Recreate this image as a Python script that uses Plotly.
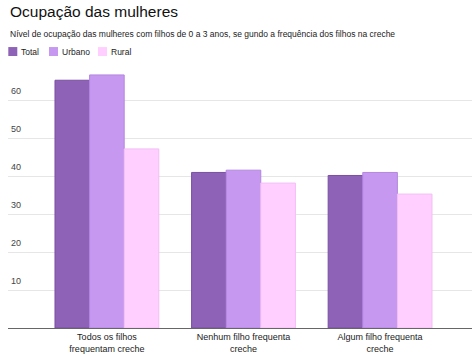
import plotly.graph_objects as go

categories = ["Todos os filhos<br>frequentam creche", "Nenhum filho frequenta<br>creche", "Algum filho frequenta<br>creche"]
series_names = ["Total", "Urbano", "Rural"]
total = [65.3, 41.0, 40.2]
urbano = [66.7, 41.6, 41.0]
rural = [47.2, 38.2, 35.3]
y_ticks = [10, 20, 30, 40, 50, 60]

fills = ["#8E62B7", "#C698F0", "#FFD0FF"]
lines = ["#7A4FA3", "#B486E0", "#F2BEF5"]

W, H = 472, 356
ML, MR, MT, MB = 8, 0, 70, 27.5
PW, PH = W - ML - MR, H - MT - MB

def px(x):
    return (x - ML) / PW

def py(y):
    return (H - MB - y) / PH

FONT = "Arial, Liberation Sans, sans-serif"

fig = go.Figure()
for name, vals, fc, lc in zip(series_names, [total, urbano, rural], fills, lines):
    fig.add_trace(go.Bar(x=categories, y=vals, name=name,
                         marker=dict(color=fc, line=dict(color=lc, width=1)),
                         showlegend=False))

annotations = []
shapes = []
annotations.append(dict(text="Ocupação das mulheres", x=px(8), y=py(11), xref="paper", yref="paper",
                        xanchor="left", yanchor="middle", showarrow=False,
                        font=dict(family=FONT, size=15.5, color="#111")))
annotations.append(dict(text="Nível de ocupação das mulheres com filhos de 0 a 3 anos, se gundo a frequência dos filhos na creche",
                        x=px(8), y=py(33.5), xref="paper", yref="paper",
                        xanchor="left", yanchor="middle", showarrow=False,
                        font=dict(family=FONT, size=8.5, color="#222")))
leg_x = [8.3, 49, 98]
for name, lx, fc in zip(series_names, leg_x, fills):
    shapes.append(dict(type="rect", xref="paper", yref="paper",
                       x0=px(lx), x1=px(lx + 9), y0=py(56), y1=py(47),
                       fillcolor=fc, line=dict(width=0)))
    annotations.append(dict(text=name, x=px(lx + 11), y=py(51.5), xref="paper", yref="paper",
                            xanchor="left", yanchor="middle", showarrow=False,
                            font=dict(family=FONT, size=8.5, color="#222")))
for t in y_ticks:
    annotations.append(dict(text=str(t), x=0, y=t, xref="paper", yref="y",
                            xanchor="left", yanchor="bottom", xshift=1, yshift=2,
                            showarrow=False, font=dict(family=FONT, size=9, color="#444")))

fig.update_layout(
    width=W, height=H,
    margin=dict(l=ML, r=MR, t=MT, b=MB, autoexpand=False),
    paper_bgcolor="white", plot_bgcolor="white",
    barmode="group", bargap=0.24, bargroupgap=0,
    annotations=annotations, shapes=shapes,
    font=dict(family=FONT),
    xaxis=dict(range=[-0.724, 2.673], showgrid=False, showline=True, linecolor="#666", linewidth=1,
               tickfont=dict(family=FONT, size=9, color="#222"), ticks="", automargin=False,
               fixedrange=True),
    yaxis=dict(range=[0, 68], tickvals=y_ticks, showticklabels=False, gridcolor="#e6e6e6",
               gridwidth=1, zeroline=False, automargin=False, fixedrange=True),
)

fig.write_html("out.html", config={"displayModeBar": False},
               post_script="document.body.style.margin='0';document.body.style.overflow='hidden';")
